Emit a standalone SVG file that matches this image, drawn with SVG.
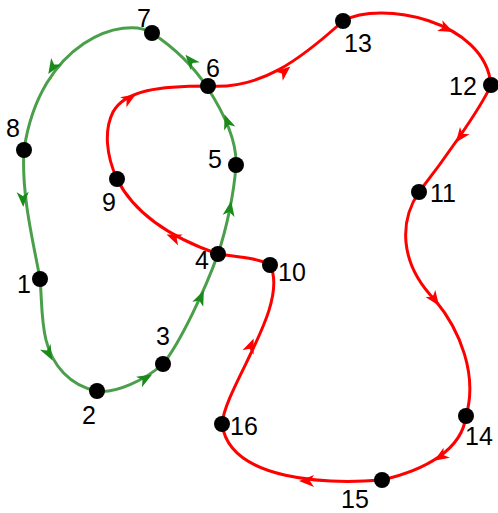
<svg xmlns="http://www.w3.org/2000/svg" width="498" height="513" viewBox="0 0 498 513">
<defs>
<style>
.g{fill:none;stroke:#4a9f4a;stroke-width:3}
.r{fill:none;stroke:#ff0000;stroke-width:3}
.ga{fill:#1a8a1a}
.ra{fill:#ff0000}
.dot{fill:#000}
.lbl{font-family:"Liberation Sans",Arial,sans-serif;font-size:25px;fill:#000}
</style>
<path id="ah" d="M7,0 L-8,-6 L-4,0 L-8,6 Z"/>
</defs>
<g id="connectors">
<path class="g" d="M24,150 C21,195 34,245 40,279 C42,300 41,320 46,340 C52,365 70,386 97,391 C115,394 145,380 163,364 C180,343 205,290 218,254 C226,230 234,195 236,165 C237,140 222,110 207,87 C192,64 170,45 152,33 C125,15 40,40 24,150 Z"/>
<path class="r" d="M218,254 C195,246 140,225 117,179 C106,155 104,130 113,112 C125,90 160,86 208,86 C260,90 300,60 343,21 C380,0 485,20 491,85 C480,110 440,165 419,192 C400,220 398,262 435,300 C460,330 478,375 466,416 C462,450 425,470 382,480 C330,484 230,482 222,424 C226,385 290,305 270,265 C258,258 238,257 218,254 Z"/>
<g class="ga">
<use href="#ah" transform="translate(23,200) rotate(88)"/>
<use href="#ah" transform="translate(49,354) rotate(62)"/>
<use href="#ah" transform="translate(146,378) rotate(-29)"/>
<use href="#ah" transform="translate(201,297) rotate(-66)"/>
<use href="#ah" transform="translate(230,208) rotate(-80)"/>
<use href="#ah" transform="translate(227,121) rotate(-110)"/>
<use href="#ah" transform="translate(190,60) rotate(-130)"/>
<use href="#ah" transform="translate(52,68) rotate(122)"/>
</g>
<g class="ra">
<use href="#ah" transform="translate(173,237) rotate(202)"/>
<use href="#ah" transform="translate(130,98) rotate(-32)"/>
<use href="#ah" transform="translate(285,71) rotate(-40)"/>
<use href="#ah" transform="translate(447,29) rotate(25)"/>
<use href="#ah" transform="translate(460,137) rotate(127)"/>
<use href="#ah" transform="translate(435,300) rotate(55)"/>
<use href="#ah" transform="translate(440,457) rotate(148)"/>
<use href="#ah" transform="translate(306,481) rotate(180)"/>
<use href="#ah" transform="translate(251,345) rotate(-68)"/>
</g>
</g>
<g id="n1"><circle class="dot" cx="40" cy="279" r="8"/><text class="lbl" x="17" y="293">1</text></g>
<g id="n2"><circle class="dot" cx="97" cy="391" r="8"/><text class="lbl" x="82" y="424">2</text></g>
<g id="n3"><circle class="dot" cx="163" cy="364" r="8"/><text class="lbl" x="156" y="345">3</text></g>
<g id="n4"><circle class="dot" cx="218" cy="254" r="8"/><text class="lbl" x="195" y="269">4</text></g>
<g id="n5"><circle class="dot" cx="236" cy="165" r="8"/><text class="lbl" x="208" y="168">5</text></g>
<g id="n6"><circle class="dot" cx="208" cy="86" r="8"/><text class="lbl" x="206" y="77">6</text></g>
<g id="n7"><circle class="dot" cx="152" cy="33" r="8"/><text class="lbl" x="137" y="27">7</text></g>
<g id="n8"><circle class="dot" cx="24" cy="150" r="8"/><text class="lbl" x="6" y="137">8</text></g>
<g id="n9"><circle class="dot" cx="117" cy="179" r="8"/><text class="lbl" x="102" y="211">9</text></g>
<g id="n10"><circle class="dot" cx="270" cy="265" r="8"/><text class="lbl" x="278" y="281">10</text></g>
<g id="n11"><circle class="dot" cx="419" cy="192" r="8"/><text class="lbl" x="430" y="202">11</text></g>
<g id="n12"><circle class="dot" cx="491" cy="85" r="8"/><text class="lbl" x="449" y="95">12</text></g>
<g id="n13"><circle class="dot" cx="343" cy="21" r="8"/><text class="lbl" x="344" y="52">13</text></g>
<g id="n14"><circle class="dot" cx="466" cy="416" r="8"/><text class="lbl" x="465" y="445">14</text></g>
<g id="n15"><circle class="dot" cx="382" cy="480" r="8"/><text class="lbl" x="341" y="508">15</text></g>
<g id="n16"><circle class="dot" cx="222" cy="424" r="8"/><text class="lbl" x="230" y="435">16</text></g>
</svg>
